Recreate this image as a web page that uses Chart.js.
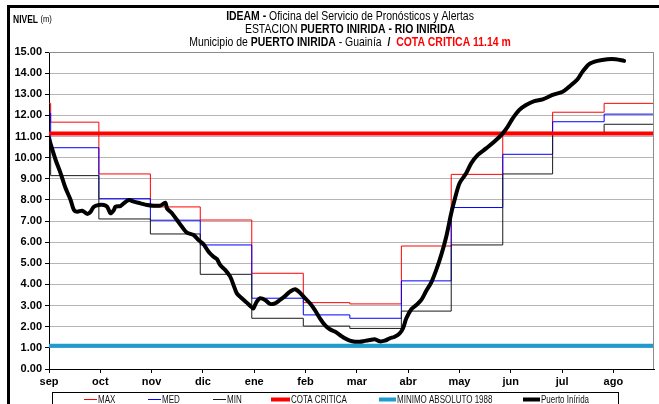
<!DOCTYPE html>
<html>
<head>
<meta charset="utf-8">
<script src="https://cdn.jsdelivr.net/npm/chart.js@4"></script>
<style>
  html, body { margin: 0; padding: 0; background: #fff; }
  #wrap { width: 659px; height: 404px; }
</style>
</head>
<body>
<div id="wrap"><canvas id="nivel-chart" width="659" height="404"></canvas></div>
<script>
// Axis labels
const months = ["sep", "oct", "nov", "dic", "ene", "feb", "mar", "abr", "may", "jun", "jul", "ago"];
const tickDays = 30.87;
const lastDay = 364;

// Monthly MAX / MED / MIN steps (day where each value starts)
const stepDays = [0, 1, 30, 61, 91, 122, 153, 181, 212, 242, 273, 303, 334, 364];
const maxLevel = [12.57, 11.68, 9.23, 7.67, 7.05, 4.53, 3.14, 3.08, 5.82, 9.21, 11.2, 12.15, 12.57, 12.57];
const medLevel = [12.1, 10.47, 8.06, 7.04, 5.87, 3.35, 2.56, 2.4, 4.17, 7.64, 10.16, 11.7, 12.06, 12.06];
const minLevel = [10.9, 9.15, 7.1, 6.39, 4.48, 2.4, 2.03, 1.92, 2.74, 5.87, 9.23, 11.15, 11.58, 11.58];

// Reference levels
const cotaCritica = 11.14;
const minimoAbsoluto = 1.10;

// Puerto Inirida observed level
const levelDays = [0, 4, 7, 10, 13, 15, 17, 20, 23, 25, 27, 30, 33, 35, 37, 39, 40, 43, 45, 48,
  51, 55, 59, 63, 67, 70, 71, 74, 77, 80, 83, 87, 90, 93, 96, 99, 101, 103, 106, 109,
  111, 113, 116, 119, 122, 123, 125, 127, 130, 133, 136, 139, 142, 145, 148, 151, 154, 157, 160, 163,
  166, 169, 172, 175, 178, 181, 184, 187, 190, 193, 196, 199, 202, 205, 208, 211, 213, 215, 218, 221,
  224, 227, 230, 233, 236, 239, 242, 244, 247, 251, 254, 258, 263, 268, 273, 276, 279, 283, 287, 292,
  297, 303, 309, 313, 318, 321, 325, 330, 336, 341, 346];
const levelValues = [10.9, 9.89, 9.26, 8.55, 8.0, 7.52, 7.44, 7.49, 7.34, 7.44, 7.68, 7.76, 7.76, 7.68, 7.37, 7.52, 7.68, 7.71, 7.84, 8.0,
  7.92, 7.84, 7.76, 7.73, 7.73, 7.87, 7.6, 7.37, 7.05, 6.73, 6.45, 6.34, 6.1, 5.9, 5.55, 5.31, 5.2, 4.92, 4.69, 4.37,
  3.98, 3.58, 3.35, 3.14, 2.92, 2.87, 3.19, 3.35, 3.27, 3.08, 3.11, 3.27, 3.45, 3.66, 3.77, 3.61, 3.35, 3.11, 2.79, 2.4,
  2.08, 1.88, 1.77, 1.61, 1.45, 1.34, 1.29, 1.29, 1.33, 1.37, 1.41, 1.31, 1.34, 1.45, 1.53, 1.69, 1.93, 2.4, 2.83, 3.03,
  3.27, 3.7, 4.1, 4.69, 5.4, 6.26, 7.37, 8.0, 8.79, 9.26, 9.73, 10.13, 10.44, 10.76, 11.15, 11.47, 11.86, 12.26, 12.49, 12.68,
  12.76, 12.97, 13.12, 13.36, 13.71, 14.07, 14.43, 14.58, 14.66, 14.66, 14.58];

const toPoints = (xs, ys) => xs.map((x, i) => ({ x: x, y: ys[i] }));
const flat = v => [{ x: 0, y: v }, { x: lastDay, y: v }];

const sans = '"Liberation Sans", Arial, sans-serif';

// legend placement: line start, line length
const legendSlots = [[84, 13], [148, 13], [213, 13], [271, 19], [379, 17], [523, 17]];

// draws mixed-style text squeezed horizontally (narrow look)
function drawRuns(ctx, runs, x0, y, squeeze, centered) {
  let total = 0;
  runs.forEach(r => { ctx.font = r.font; total += ctx.measureText(r.text).width; });
  ctx.save();
  ctx.translate(centered ? x0 - total * squeeze / 2 : x0, y);
  ctx.scale(squeeze, 1);
  let x = 0;
  runs.forEach(r => {
    ctx.font = r.font;
    ctx.fillStyle = r.color || "#000";
    ctx.fillText(r.text, x, 0);
    x += ctx.measureText(r.text).width;
  });
  ctx.restore();
}

const decorations = {
  id: "decorations",
  beforeDraw(chart) {
    const ctx = chart.ctx;
    ctx.save();
    ctx.fillStyle = "#fff";
    ctx.fillRect(0, 0, chart.width, chart.height);
    ctx.restore();
  },
  afterDraw(chart) {
    const { ctx, chartArea: a } = chart;
    ctx.save();

    // plot area border (top and right)
    ctx.strokeStyle = "#8c8c8c";
    ctx.lineWidth = 1;
    ctx.beginPath();
    ctx.moveTo(a.left, a.top + 0.5);
    ctx.lineTo(a.right - 0.5, a.top + 0.5);
    ctx.lineTo(a.right - 0.5, a.bottom);
    ctx.stroke();

    // outer frame
    ctx.fillStyle = "#000";
    ctx.fillRect(7, 5, 3, chart.height - 5);
    ctx.fillRect(7, 5, chart.width - 7, 3);

    // titles
    ctx.textBaseline = "middle";
    ctx.textAlign = "left";
    const b = "bold 12px " + sans;
    const n = "12px " + sans;
    const sq = 0.87;
    drawRuns(ctx, [{ text: "IDEAM - ", font: b }, { text: "Oficina del Servicio de Pronósticos y Alertas", font: n }], 350, 17, sq, true);
    drawRuns(ctx, [{ text: "ESTACION ", font: n }, { text: "PUERTO INIRIDA - RIO INIRIDA", font: b }], 350, 30, sq, true);
    drawRuns(ctx, [
      { text: "Municipio de ", font: n },
      { text: "PUERTO INIRIDA", font: b },
      { text: " - Guainía  ", font: n },
      { text: "/  ", font: b },
      { text: "COTA CRITICA " + cotaCritica.toFixed(2) + " m", font: b, color: "#ff0000" }
    ], 350, 43, sq, true);
    drawRuns(ctx, [{ text: "NIVEL ", font: "bold 10px " + sans }, { text: "(m)", font: "9px " + sans }], 13, 20, 0.85, false);

    // legend box
    ctx.strokeStyle = "#000";
    ctx.lineWidth = 1;
    ctx.strokeRect(52.5, 392.5, 566, 20);
    chart.data.datasets.forEach((ds, i) => {
      const [lx, len] = legendSlots[i];
      ctx.strokeStyle = ds.borderColor;
      ctx.lineWidth = ds.borderWidth;
      ctx.beginPath();
      ctx.moveTo(lx, 399.5);
      ctx.lineTo(lx + len, 399.5);
      ctx.stroke();
      drawRuns(ctx, [{ text: ds.label, font: "10px " + sans, color: "#111" }], lx + len + 1, 400, 0.8, false);
    });
    ctx.restore();
  }
};

const nivelChart = new Chart(document.getElementById("nivel-chart"), {
  type: "line",
  data: {
    datasets: [
      { label: "MAX", data: toPoints(stepDays, maxLevel), borderColor: "#ff0000", borderWidth: 1, stepped: true, order: 5 },
      { label: "MED", data: toPoints(stepDays, medLevel), borderColor: "#0000ff", borderWidth: 1, stepped: true, order: 4 },
      { label: "MIN", data: toPoints(stepDays, minLevel), borderColor: "#1a1a1a", borderWidth: 1, stepped: true, order: 3 },
      { label: "COTA CRITICA", data: flat(cotaCritica), borderColor: "#ff0000", borderWidth: 4, order: 2 },
      { label: "MINIMO ABSOLUTO 1988", data: flat(minimoAbsoluto), borderColor: "#1e9bcf", borderWidth: 4, order: 1 },
      { label: "Puerto Inírida", data: toPoints(levelDays, levelValues), borderColor: "#000", borderWidth: 4, tension: 0.3, order: 0 }
    ]
  },
  options: {
    responsive: false,
    animation: false,
    events: [],
    layout: { padding: { left: 0, top: 52, right: 5, bottom: 0 } },
    elements: {
      point: { radius: 0 },
      line: { borderCapStyle: "round", borderJoinStyle: "round" }
    },
    scales: {
      x: {
        type: "linear",
        min: 0,
        max: lastDay,
        afterFit: s => { s.height = 35; },
        afterBuildTicks: s => { s.ticks = months.map((m, i) => ({ value: i * tickDays })); },
        ticks: {
          autoSkip: false,
          maxRotation: 0,
          padding: 2,
          color: "#000",
          font: { family: sans, size: 11, weight: "bold" },
          callback: (v, i) => months[i]
        },
        grid: { drawOnChartArea: false, tickLength: 4, tickColor: "#000" },
        border: { color: "#000", width: 1 }
      },
      y: {
        min: 0,
        max: 15,
        afterFit: s => { s.width = 49; },
        ticks: {
          stepSize: 1,
          padding: 3,
          color: "#000",
          font: { family: sans, size: 11, weight: "bold" },
          callback: v => v.toFixed(2)
        },
        grid: { color: "#b5b5b5", borderDash: [1, 1], tickLength: 4, tickColor: "#000", tickBorderDash: [] },
        border: { color: "#000", width: 1 }
      }
    },
    plugins: {
      legend: { display: false },
      title: { display: false },
      tooltip: { enabled: false }
    }
  },
  plugins: [decorations]
});
</script>
</body>
</html>
